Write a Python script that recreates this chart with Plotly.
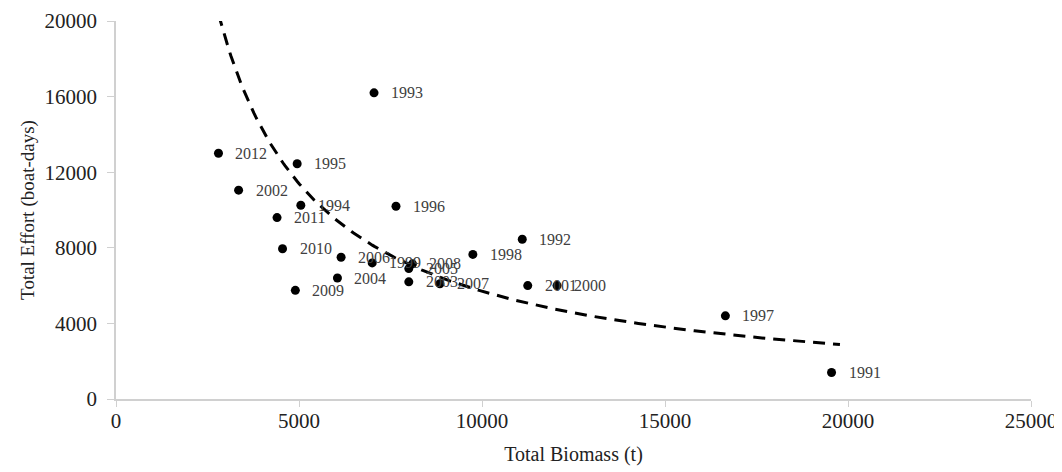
import numpy as np
import plotly.graph_objects as go

years = [1991, 1992, 1993, 1994, 1995, 1996, 1997, 1998, 1999, 2000, 2001,
         2002, 2003, 2004, 2005, 2006, 2007, 2008, 2009, 2010, 2011, 2012]
biomass = [19550, 11100, 7050, 5050, 4950, 7650, 16650, 9750, 7000, 12050, 11250,
           3350, 8000, 6050, 8000, 6150, 8850, 8100, 4900, 4550, 4400, 2800]
effort = [1400, 8450, 16200, 10250, 12450, 10200, 4400, 7650, 7200, 6000, 6000,
          11050, 6200, 6400, 6900, 7500, 6100, 7150, 5750, 7950, 9600, 13000]

x_ticks = [0, 5000, 10000, 15000, 20000, 25000]
y_ticks = [0, 4000, 8000, 12000, 16000, 20000]

# Power trendline y = a * x^b, parameters
trend_a = 5.7e7
trend_b = -1.0
trend_x_start = 2800
trend_x_end = 19780
trend_x = np.linspace(trend_x_start, trend_x_end, 300)
trend_y = trend_a * trend_x ** trend_b

FONT = "Liberation Serif"

fig = go.Figure()
fig.add_trace(go.Scatter(
    x=trend_x, y=trend_y, mode="lines",
    line=dict(color="black", width=3, dash="12px,8px"),
    hoverinfo="skip", showlegend=False,
))
fig.add_trace(go.Scatter(
    x=biomass, y=effort, mode="markers",
    marker=dict(color="black", size=9),
    showlegend=False,
))
for yr, xv, yv in zip(years, biomass, effort):
    fig.add_annotation(
        x=xv, y=yv, text=str(yr), showarrow=False,
        xanchor="left", yanchor="middle", xshift=15,
        font=dict(family=FONT, size=16, color="#404040"),
    )

# page body has an 8px default margin, so the figure is sized to fit the window
fig.update_layout(
    width=1054, height=464,
    margin=dict(l=108, r=31, t=13, b=73),
    paper_bgcolor="white", plot_bgcolor="white",
    font=dict(family=FONT, color="#262626"),
)
fig.update_xaxes(
    range=[0, 25000], tickvals=x_ticks, ticktext=[str(v) for v in x_ticks],
    showgrid=False, zeroline=False, showline=True, linecolor="#d0d0d0", linewidth=1.5,
    ticks="outside", ticklen=6, tickcolor="#d0d0d0", automargin=False,
    ticklabelstandoff=-4,
    tickfont=dict(family=FONT, size=21, color="#222222"),
    title=dict(text="Total Biomass (t)", font=dict(family=FONT, size=20, color="#222222"), standoff=15),
)
fig.update_yaxes(
    range=[0, 20000], tickvals=y_ticks, ticktext=[str(v) for v in y_ticks],
    showgrid=False, zeroline=False, showline=True, linecolor="#d0d0d0", linewidth=1.5,
    ticks="outside", ticklen=7, tickcolor="#d0d0d0", automargin=False,
    ticklabelstandoff=6,
    tickfont=dict(family=FONT, size=21, color="#222222"),
    title=dict(text="Total Effort (boat-days)", font=dict(family=FONT, size=19, color="#222222"), standoff=5),
)

fig.write_html("out.html")
